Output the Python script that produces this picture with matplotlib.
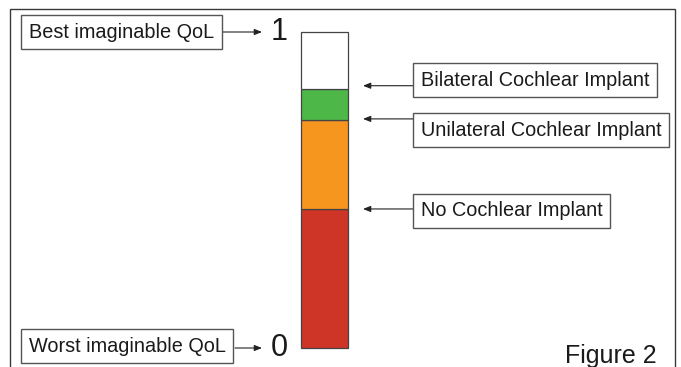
import numpy as np
import matplotlib
matplotlib.use("Agg")
import matplotlib.pyplot as plt
from matplotlib.patches import Rectangle

plt.rcParams['font.family'] = ['Liberation Sans', 'DejaVu Sans']

# QoL scale thresholds (top of each band)
bands = ["No Cochlear Implant", "Unilateral Cochlear Implant",
         "Bilateral Cochlear Implant", "Best imaginable"]
tops = [0.44, 0.72, 0.82, 1.0]
colors = ["#cf3527", "#f7961e", "#4db748", "#ffffff"]
# labels on the right, each pointing at the top of its band
right_labels = ["Bilateral Cochlear Implant", "Unilateral Cochlear Implant", "No Cochlear Implant"]
right_values = [0.83, 0.725, 0.44]
right_box_y = [287, 237, 156]   # centre of box, figure pixels from bottom

W, H = 681, 367
fig = plt.figure(figsize=(W / 100, H / 100), dpi=100)

# outer frame
fig.add_artist(Rectangle((10 / W, -0.1), 665 / W, (H - 9) / H + 0.1,
                         transform=fig.transFigure, fill=False,
                         ec="#3a3a3a", lw=1.0))

ax = fig.add_axes([301 / W, 19 / H, 47 / W, 316 / H])
bottoms = [0] + tops[:-1]
heights = np.array(tops) - np.array(bottoms)
bars = ax.bar(0, heights, bottom=bottoms, width=1.0, color=colors,
              edgecolor="#444444", lw=0.9)
for b in bars:
    b.set_clip_on(False)
ax.set_xlim(-0.5, 0.5)
ax.set_ylim(0, 1)
ax.axis("off")

arrow = dict(arrowstyle="-|>,head_length=0.45,head_width=0.18",
             color="#222222", lw=0.8, shrinkA=0, shrinkB=0)
box = dict(boxstyle="square,pad=0.38", fc="white", ec="#555555", lw=1.0)
coords = ("figure pixels", "data")

# right side labels
for lab, v, by in zip(right_labels, right_values, right_box_y):
    ax.annotate("", xy=(363, v), xytext=(413, v), xycoords=coords,
                textcoords=coords, arrowprops=arrow)
    fig.text(421 / W, by / H, lab, ha="left", va="center",
             fontsize=14.3, color="#1a1a1a", bbox=box)

# left side: scale ends
ends = [("Best imaginable QoL", 1.0, "1", 223, 335),
        ("Worst imaginable QoL", 0.0, "0", 235, 21)]
for lab, v, num, bx, by in ends:
    ax.annotate("", xy=(262, v), xytext=(bx, v), xycoords=coords,
                textcoords=coords, arrowprops=arrow)
    fig.text(29 / W, by / H, lab, ha="left", va="center",
             fontsize=14.3, color="#1a1a1a", bbox=box)
    ax.annotate(num, xy=(279, v), xycoords=coords, ha="center", va="center",
                fontsize=22, color="#1a1a1a")

fig.text(657 / W, 4 / H, "Figure 2", ha="right", va="baseline",
         fontsize=18, color="#1a1a1a")

fig.savefig("out.png", dpi=100)
